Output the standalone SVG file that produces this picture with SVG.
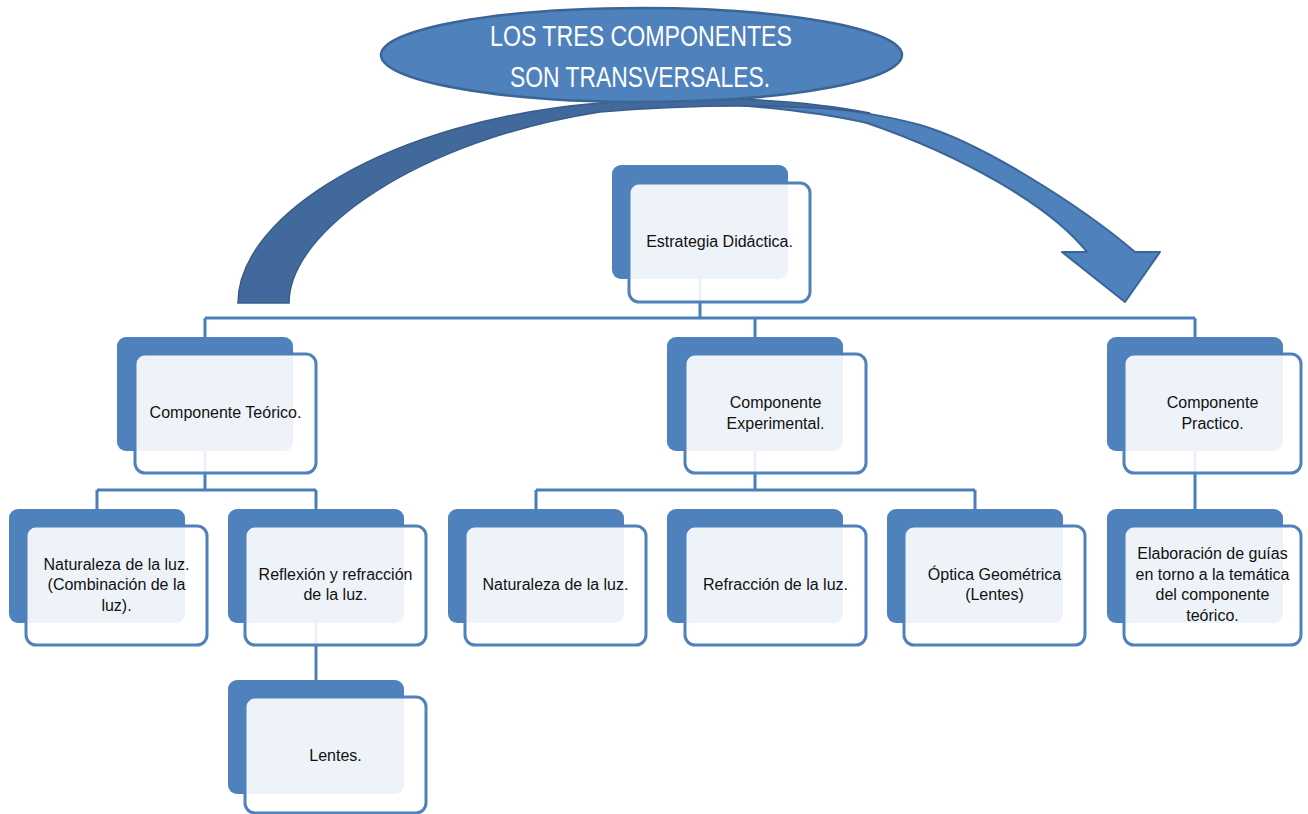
<svg xmlns="http://www.w3.org/2000/svg" width="1308" height="814" viewBox="0 0 1308 814">
<style>
.bk{fill:#4f81bd;}
.fr{fill:#ffffff;fill-opacity:0.9;stroke:#4f81bd;stroke-width:3;}
.t{font-family:"Liberation Sans",Arial,sans-serif;font-size:16px;fill:#111;text-anchor:middle;}
.ttl{font-family:"Liberation Sans",Arial,sans-serif;font-size:29px;fill:#ffffff;text-anchor:middle;}
.cn{fill:none;stroke:#4a7ebb;stroke-width:3;}
</style>
<rect width="1308" height="814" fill="#ffffff"/>
<g id="curved-arrow">
<path d="M650,99 C750,97 860,108 920,125 C980,142 1080,205 1135,252 L1160,252 L1125,302 L1062,252 L1087,252 C1050,205 960,155 867,123 C820,112 740,104 660,100 Z" fill="#4f81bd" stroke="#3a6595" stroke-width="2" stroke-linejoin="round"/>
<path d="M238,303 C238,215 390,120 600,103 C680,95 790,97 870,113 C800,104 700,104 600,112 C420,140 289,230 289,303 Z" fill="#41699b" stroke="#385d8a" stroke-width="1.5"/>
</g>
<g id="title">
<ellipse cx="641.5" cy="55" rx="260.5" ry="47" fill="#4f81bd" stroke="#3a6595" stroke-width="2.5"/>
<text class="ttl" x="641" y="46" textLength="302" lengthAdjust="spacingAndGlyphs">LOS TRES COMPONENTES</text>
<text class="ttl" x="640" y="87" textLength="260" lengthAdjust="spacingAndGlyphs">SON TRANSVERSALES.</text>
</g>
<g id="connectors">
<path class="cn" d="M700,279 V318 M205,318 H1195 M205,318 V337 M755,318 V337 M1195,318 V337"/>
<path class="cn" d="M205,451 V490 M97,490 H316 M97,490 V509 M316,490 V509"/>
<path class="cn" d="M316,622 V680"/>
<path class="cn" d="M755,451 V490 M536,490 H975 M536,490 V509 M975,490 V509"/>
<path class="cn" d="M1195,451 V509"/>
</g>
<g id="n-estrategia">
<rect class="bk" x="612" y="165" width="176" height="114" rx="9"/>
<rect class="fr" x="629" y="183" width="181" height="119" rx="10"/>
<text class="t" x="719.5" y="247">Estrategia Didáctica.</text>
</g>
<g id="n-teorico">
<rect class="bk" x="117" y="337" width="176" height="114" rx="9"/>
<rect class="fr" x="135" y="354" width="181" height="119" rx="10"/>
<text class="t" x="225.5" y="418">Componente Teórico.</text>
</g>
<g id="n-experimental">
<rect class="bk" x="667" y="337" width="176" height="114" rx="9"/>
<rect class="fr" x="685" y="354" width="181" height="119" rx="10"/>
<text class="t" x="775.5" y="408">Componente</text>
<text class="t" x="775.5" y="428.5">Experimental.</text>
</g>
<g id="n-practico">
<rect class="bk" x="1107" y="337" width="176" height="114" rx="9"/>
<rect class="fr" x="1124" y="354" width="177" height="119" rx="10"/>
<text class="t" x="1212.5" y="408">Componente</text>
<text class="t" x="1212.5" y="428.5">Practico.</text>
</g>
<g id="n-naturaleza-comb">
<rect class="bk" x="9" y="509" width="176" height="114" rx="9"/>
<rect class="fr" x="26" y="526" width="181" height="119" rx="10"/>
<text class="t" x="116.5" y="569.5">Naturaleza de la luz.</text>
<text class="t" x="116.5" y="590">(Combinación de la</text>
<text class="t" x="116.5" y="610.5">luz).</text>
</g>
<g id="n-reflexion">
<rect class="bk" x="228" y="509" width="176" height="114" rx="9"/>
<rect class="fr" x="245" y="526" width="181" height="119" rx="10"/>
<text class="t" x="335.5" y="579.75">Reflexión y refracción</text>
<text class="t" x="335.5" y="600.25">de la luz.</text>
</g>
<g id="n-lentes">
<rect class="bk" x="228" y="680" width="176" height="114" rx="9"/>
<rect class="fr" x="245" y="697" width="181" height="116" rx="10"/>
<text class="t" x="335.5" y="761">Lentes.</text>
</g>
<g id="n-naturaleza">
<rect class="bk" x="448" y="509" width="176" height="114" rx="9"/>
<rect class="fr" x="465" y="526" width="181" height="119" rx="10"/>
<text class="t" x="555.5" y="590">Naturaleza de la luz.</text>
</g>
<g id="n-refraccion">
<rect class="bk" x="667" y="509" width="176" height="114" rx="9"/>
<rect class="fr" x="685" y="526" width="181" height="119" rx="10"/>
<text class="t" x="775.5" y="590">Refracción de la luz.</text>
</g>
<g id="n-optica">
<rect class="bk" x="887" y="509" width="176" height="114" rx="9"/>
<rect class="fr" x="904" y="526" width="181" height="119" rx="10"/>
<text class="t" x="994.5" y="579.75">Óptica Geométrica</text>
<text class="t" x="994.5" y="600.25">(Lentes)</text>
</g>
<g id="n-elaboracion">
<rect class="bk" x="1107" y="509" width="176" height="114" rx="9"/>
<rect class="fr" x="1124" y="526" width="177" height="119" rx="10"/>
<text class="t" x="1212.5" y="559.25">Elaboración de guías</text>
<text class="t" x="1212.5" y="579.75">en torno a la temática</text>
<text class="t" x="1212.5" y="600.25">del componente</text>
<text class="t" x="1212.5" y="620.75">teórico.</text>
</g>
</svg>
